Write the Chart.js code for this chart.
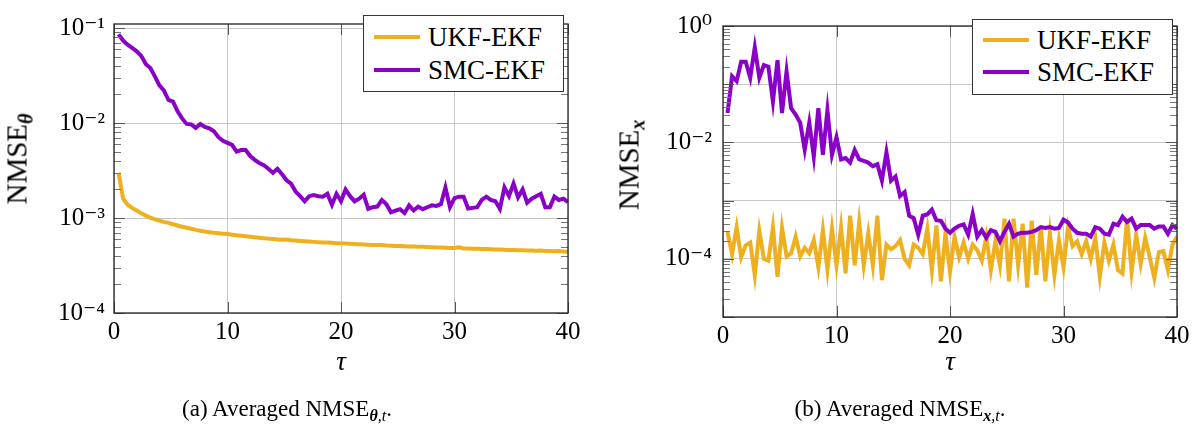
<!DOCTYPE html>
<html>
<head>
<meta charset="utf-8">
<script src="https://cdn.jsdelivr.net/npm/chart.js@4.4.1/dist/chart.umd.min.js"></script>
<style>
  body { margin: 0; background: #fff; font-family: 'Liberation Serif', 'DejaVu Serif', serif; }
  #page { position: relative; width: 1195px; height: 430px; overflow: hidden; background: #fff; }
  canvas { position: absolute; top: 0; }
  .ylab { position: absolute; white-space: nowrap; font-size: 29px; transform: translate(-50%, -50%) rotate(-90deg); }
  .ylab sub { font-size: 20px; vertical-align: -6px; }
  .cap { position: absolute; white-space: nowrap; font-size: 23px; transform: translate(-50%, -50%); }
  .cap sub { font-size: 16px; vertical-align: -5px; }
  .legend { position: absolute; box-sizing: border-box; border: 1px solid #333; background: #fff; font-size: 27px; }
  .legend .row { position: absolute; left: 0; height: 32px; display: flex; align-items: center; }
  .legend .sw { display: inline-block; width: 46px; height: 4px; margin-left: 10px; margin-right: 8px; }
</style>
</head>
<body>
<div id="page">
  <canvas id="chartTheta" width="600" height="430" style="left:0"></canvas>
  <canvas id="chartX" width="595" height="430" style="left:600px"></canvas>

  <div class="ylab" style="left:19px; top:159px">NMSE<sub><b><i>θ</i></b></sub></div>
  <div class="ylab" style="left:631px; top:165px">NMSE<sub><b><i>x</i></b></sub></div>

  <div class="legend" id="legTheta" style="left:363px; top:15px; width:201px; height:77px"></div>
  <div class="legend" id="legX" style="left:972px; top:19px; width:201px; height:76px"></div>

  <div class="cap" style="left:287px; top:410px">(a) Averaged NMSE<sub><b><i>θ</i></b>,<i>t</i></sub>.</div>
  <div class="cap" style="left:900px; top:410px">(b) Averaged NMSE<sub><b><i>x</i></b>,<i>t</i></sub>.</div>
</div>

<script>
// time axis (tau)
const tau = [0.4, 0.8, 1.2, 1.6, 2, 2.4, 2.8, 3.2, 3.6, 4,
  4.4, 4.8, 5.2, 5.6, 6, 6.4, 6.8, 7.2, 7.6, 8,
  8.4, 8.8, 9.2, 9.6, 10, 10.4, 10.8, 11.2, 11.6, 12,
  12.4, 12.8, 13.2, 13.6, 14, 14.4, 14.8, 15.2, 15.6, 16,
  16.4, 16.8, 17.2, 17.6, 18, 18.4, 18.8, 19.2, 19.6, 20,
  20.4, 20.8, 21.2, 21.6, 22, 22.4, 22.8, 23.2, 23.6, 24,
  24.4, 24.8, 25.2, 25.6, 26, 26.4, 26.8, 27.2, 27.6, 28,
  28.4, 28.8, 29.2, 29.6, 30, 30.4, 30.8, 31.2, 31.6, 32,
  32.4, 32.8, 33.2, 33.6, 34, 34.4, 34.8, 35.2, 35.6, 36,
  36.4, 36.8, 37.2, 37.6, 38, 38.4, 38.8, 39.2, 39.6, 40];

// (a) NMSE theta
const ukfTheta = [0.00300, 0.00160, 0.00138, 0.00128, 0.00120, 0.00112, 0.00106, 0.00101, 0.00097, 0.00094,
  0.00091, 0.00089, 0.00086, 0.000835, 0.00081, 0.00079, 0.00077, 0.00075, 0.000735, 0.00072,
  0.00071, 0.00070, 0.000692, 0.000685, 0.000678, 0.000668, 0.000658, 0.00065, 0.000642, 0.000634,
  0.000626, 0.000619, 0.000613, 0.000607, 0.000601, 0.000596, 0.000591, 0.000593, 0.000584, 0.000579,
  0.000574, 0.000569, 0.000565, 0.000561, 0.000557, 0.000554, 0.000551, 0.000548, 0.000544, 0.000541,
  0.000538, 0.000535, 0.000532, 0.000529, 0.000527, 0.000524, 0.000521, 0.000519, 0.000521, 0.000514,
  0.000512, 0.000509, 0.000507, 0.000505, 0.000503, 0.000501, 0.000499, 0.000497, 0.000495, 0.000493,
  0.000491, 0.000489, 0.000487, 0.000485, 0.000484, 0.000491, 0.000479, 0.000477, 0.000476, 0.000474,
  0.000472, 0.000471, 0.000469, 0.000467, 0.000466, 0.000464, 0.000462, 0.000461, 0.000459, 0.000458,
  0.000456, 0.000455, 0.000453, 0.000455, 0.00045, 0.000449, 0.000447, 0.000449, 0.000444, 0.000441];

const smcTheta = [0.086, 0.074, 0.067, 0.062, 0.057, 0.051, 0.042, 0.038, 0.031, 0.025,
  0.022, 0.0175, 0.0168, 0.0133, 0.0112, 0.0098, 0.0097, 0.0089, 0.0098, 0.0091,
  0.0088, 0.0082, 0.0071, 0.0065, 0.0062, 0.0059, 0.0050, 0.0052, 0.0052, 0.0045,
  0.0041, 0.0038, 0.0036, 0.0033, 0.0030, 0.0033, 0.0029, 0.0025, 0.0023, 0.0019,
  0.0017, 0.0015, 0.0017, 0.00175, 0.0017, 0.00168, 0.0018, 0.00138, 0.0018, 0.0015,
  0.0020, 0.0017, 0.0015, 0.0016, 0.00176, 0.00125, 0.0013, 0.00132, 0.00155, 0.0014,
  0.00115, 0.0012, 0.00124, 0.00113, 0.00136, 0.0012, 0.00132, 0.00124, 0.0013, 0.00136,
  0.00134, 0.0014, 0.0021, 0.0013, 0.00162, 0.00168, 0.00168, 0.00126, 0.00128, 0.0013,
  0.00155, 0.00168, 0.00155, 0.0015, 0.00125, 0.0021, 0.0017, 0.0023, 0.00165, 0.0020,
  0.00145, 0.0016, 0.0017, 0.0018, 0.0013, 0.0013, 0.00168, 0.00155, 0.0016, 0.00147];

// (b) NMSE x
const ukfX = [2.9e-4, 1.2e-4, 3.5e-4, 1.06e-4, 1.7e-4, 1.9e-4, 5.2e-5, 3.0e-4, 1.0e-4, 9.3e-5,
  3.5e-4, 4.9e-5, 3.4e-4, 1.1e-4, 1.25e-4, 2.4e-4, 1.1e-4, 1.55e-4, 1.25e-4, 2.1e-4,
  7.2e-5, 3.1e-4, 6.4e-5, 3.3e-4, 7.7e-5, 3.5e-4, 5.6e-5, 5.5e-4, 7.7e-5, 4.3e-4,
  7.7e-5, 2.75e-4, 7.7e-5, 5.5e-4, 4.3e-5, 1.75e-4, 1.45e-4, 1.65e-4, 2.1e-4, 1.0e-4,
  7.7e-5, 1.75e-4, 1.55e-4, 1.2e-4, 3.3e-4, 6.4e-5, 3.75e-4, 4.1e-5, 2.75e-4, 6.0e-5,
  2.4e-4, 1.06e-4, 1.9e-4, 1.0e-4, 1.75e-4, 1.4e-4, 9.3e-5, 2.4e-4, 6.4e-5, 2.0e-4,
  7.7e-5, 4.9e-4, 4.1e-5, 4.9e-4, 7.7e-5, 4.0e-4, 3.2e-5, 4.5e-4, 5.3e-5, 3.5e-4,
  4.1e-5, 2.75e-4, 5.3e-5, 2.1e-4, 7.2e-5, 3.5e-4, 1.65e-4, 2.0e-4, 1.2e-4, 2.0e-4,
  1.0e-4, 2.3e-4, 4.9e-5, 1.9e-4, 9.3e-5, 1.75e-4, 6.4e-5, 5.6e-5, 4.9e-4, 6.0e-5,
  2.6e-4, 8.2e-5, 2.3e-4, 1.06e-4, 4.7e-5, 1.3e-4, 1.35e-4, 6.4e-5, 1.75e-4, 2.4e-4];

const smcX = [0.032, 0.137, 0.113, 0.243, 0.243, 0.129, 0.43, 0.129, 0.214, 0.2,
  0.05, 0.259, 0.032, 0.166, 0.0386, 0.030, 0.0218, 0.0075, 0.0218, 0.0057,
  0.0386, 0.0061, 0.036, 0.0061, 0.0123, 0.0051, 0.0054, 0.0045, 0.0074, 0.0051,
  0.0048, 0.0045, 0.0039, 0.0042, 0.0022, 0.0068, 0.0022, 0.0026, 0.0012, 0.0014,
  0.00055, 0.0005, 0.00026, 0.00055, 0.00058, 0.0007, 0.00046, 0.00045, 0.00033, 0.00028,
  0.00033, 0.00037, 0.00039, 0.00026, 0.00059, 0.00024, 0.00031, 0.00023, 0.00031, 0.00029,
  0.0002, 0.00029, 0.0004, 0.00024, 0.00027, 0.00028, 0.00028, 0.00029, 0.00031, 0.00035,
  0.00034, 0.00035, 0.00033, 0.00034, 0.00047, 0.00042, 0.00033, 0.00028, 0.00027, 0.00027,
  0.00024, 0.00035, 0.00033, 0.00027, 0.00026, 0.0004, 0.00038, 0.00053, 0.00043, 0.00049,
  0.00033, 0.00038, 0.00038, 0.00038, 0.00033, 0.00036, 0.00036, 0.00027, 0.00038, 0.00033];

const seriesLabels = ['UKF-EKF', 'SMC-EKF'];
const seriesColors = ['#efb020', '#8a00c8'];
const xTicks = [0, 10, 20, 30, 40];

const FONT = "'Liberation Serif', 'DejaVu Serif', serif";
const SUP = { '-': '\u207B', '0': '\u2070', '1': '\u00B9', '2': '\u00B2', '3': '\u00B3', '4': '\u2074', '5': '\u2075' };

function powLabel(v) {
  const e = Math.round(Math.log10(v));
  return '10' + String(e).split('').map(c => SUP[c]).join('');
}

// pgfplots-like frame with inward tick marks
const frameTicks = {
  id: 'frameTicks',
  afterDraw(chart) {
    const { ctx, chartArea: a, scales: { x, y } } = chart;
    ctx.save();
    const lo = Math.floor(Math.log10(y.min)), hi = Math.ceil(Math.log10(y.max));
    ctx.lineWidth = 1;
    ctx.strokeStyle = '#777';
    ctx.beginPath();
    for (let d = lo; d < hi; d++) {
      for (let m = 2; m <= 9; m++) {
        const v = m * Math.pow(10, d);
        if (v < y.min || v > y.max) continue;
        const py = Math.round(y.getPixelForValue(v)) + 0.5;
        ctx.moveTo(a.left, py); ctx.lineTo(a.left + 7, py);
        ctx.moveTo(a.right, py); ctx.lineTo(a.right - 7, py);
      }
    }
    ctx.stroke();
    ctx.strokeStyle = '#555';
    ctx.beginPath();
    for (let d = lo; d <= hi; d++) {
      const v = Math.pow(10, d);
      if (v < y.min || v > y.max) continue;
      const py = Math.round(y.getPixelForValue(v)) + 0.5;
      ctx.moveTo(a.left, py); ctx.lineTo(a.left + 11, py);
      ctx.moveTo(a.right, py); ctx.lineTo(a.right - 11, py);
    }
    xTicks.forEach(t => {
      const px = Math.round(x.getPixelForValue(t)) + 0.5;
      ctx.moveTo(px, a.bottom); ctx.lineTo(px, a.bottom - 11);
      ctx.moveTo(px, a.top); ctx.lineTo(px, a.top + 11);
    });
    ctx.stroke();
    ctx.strokeStyle = '#222';
    ctx.lineWidth = 1.3;
    ctx.strokeRect(a.left, a.top, a.right - a.left, a.bottom - a.top);
    ctx.restore();
  }
};

function makeChart(id, ukf, smc, opt) {
  const data = arr => tau.map((t, i) => ({ x: t, y: arr[i] }));
  return new Chart(document.getElementById(id), {
    type: 'line',
    data: {
      datasets: [
        { label: seriesLabels[0], data: data(ukf), borderColor: seriesColors[0], borderWidth: 4, pointRadius: 0, tension: 0, order: 2 },
        { label: seriesLabels[1], data: data(smc), borderColor: seriesColors[1], borderWidth: 4, pointRadius: 0, tension: 0, order: 1 }
      ]
    },
    options: {
      responsive: false,
      animation: false,
      devicePixelRatio: 1,
      layout: { padding: opt.padding },
      plugins: { legend: { display: false }, tooltip: { enabled: false } },
      scales: {
        x: {
          type: 'linear', min: 0, max: 40,
          afterBuildTicks: s => { s.ticks = xTicks.map(v => ({ value: v })); },
          afterFit: s => { s.height = opt.xHeight; },
          ticks: { color: '#000', font: { family: FONT, size: 25 }, padding: 4, maxRotation: 0 },
          grid: { color: '#c8c8c8', lineWidth: 1, drawTicks: false },
          border: { display: false },
          title: { display: true, text: 'τ', color: '#000', font: { family: FONT, size: 27, style: 'italic' }, padding: { top: 0, bottom: 51 } }
        },
        y: {
          type: 'logarithmic', min: opt.yMin, max: opt.yMax,
          afterBuildTicks: s => { s.ticks = opt.decades.map(v => ({ value: v })); },
          afterFit: s => { s.width = opt.yWidth; },
          ticks: {
            color: '#000', font: { family: FONT, size: 25 }, padding: opt.yPad, autoSkip: false,
            callback: v => opt.labelled.includes(v) ? powLabel(v) : ''
          },
          grid: { color: '#c8c8c8', lineWidth: 1, drawTicks: false },
          border: { display: false }
        }
      }
    },
    plugins: [frameTicks]
  });
}

const chartTheta = makeChart('chartTheta', ukfTheta, smcTheta, {
  padding: { left: 0, top: 12, right: 32, bottom: 0 },
  xHeight: 117, yWidth: 114, yPad: 9,
  yMin: 1e-4, yMax: 0.1105,
  decades: [1e-4, 1e-3, 1e-2, 1e-1],
  labelled: [1e-4, 1e-3, 1e-2, 1e-1]
});

const chartX = makeChart('chartX', ukfX, smcX, {
  padding: { left: 0, top: 15, right: 18, bottom: 0 },
  xHeight: 113, yWidth: 123, yPad: 11,
  yMin: 1e-5, yMax: 1,
  decades: [1e-5, 1e-4, 1e-3, 1e-2, 1e-1, 1],
  labelled: [1e-4, 1e-2, 1]
});

// legend boxes built from the chart datasets
function buildLegend(chart, el, rowTop) {
  chart.data.datasets.forEach((ds, i) => {
    const row = document.createElement('div');
    row.className = 'row';
    row.style.top = rowTop[i] + 'px';
    row.innerHTML = '<span class="sw" style="background:' + ds.borderColor + '"></span><span>' + ds.label + '</span>';
    el.appendChild(row);
  });
}
buildLegend(chartTheta, document.getElementById('legTheta'), [5, 38]);
buildLegend(chartX, document.getElementById('legX'), [4, 36]);
</script>
</body>
</html>
